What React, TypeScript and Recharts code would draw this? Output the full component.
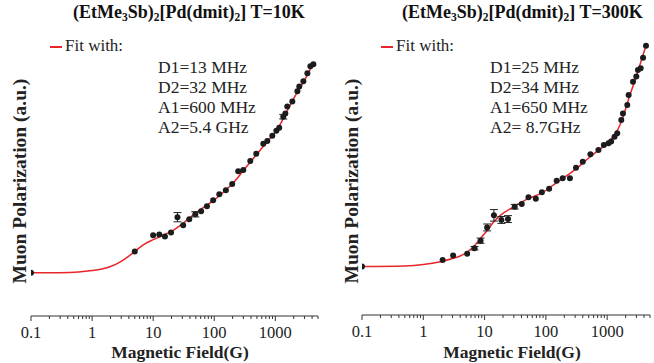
import React from 'react';
import { ComposedChart, Line, Scatter, XAxis, YAxis, ErrorBar } from 'recharts';

// measured points, field in G, polarization in a.u. (0-100 of the axis height)
const field10K = [0.1, 5, 10, 12.6, 15.6, 19.6, 25, 31, 39, 49, 61, 76, 96, 121, 155, 197, 247, 299, 389, 488, 636, 739, 893, 1040, 1160, 1350, 1460, 1570, 1900, 2300, 2470, 2880, 3350, 3750, 4200];
const pol10K = [15.0, 22.4, 28.0, 28.3, 27.6, 29.0, 34.3, 31.5, 33.6, 35.3, 36.4, 38.1, 40.2, 42.3, 43.7, 45.8, 50.3, 50.7, 53.8, 56.3, 59.8, 60.8, 62.6, 64.3, 65.4, 69.2, 70.3, 72.7, 74.5, 78.0, 79.7, 81.5, 84.3, 86.7, 87.4];
const err10K = [0, 0, 0, 0, 0, 0, 1.6, 0, 0, 0.9, 0, 0, 0, 0, 0, 0, 0, 0, 0, 0, 0, 0, 0, 0, 0, 0.8, 0, 0, 0, 0, 0, 0, 0, 0, 0];

const fitField10K = [0.1, 0.3, 0.6, 1, 1.5, 2, 3, 4, 5, 7, 10, 15, 20, 30, 50, 70, 100, 150, 200, 300, 500, 700, 1000, 1200, 1500, 2000, 3000, 4200];
const fitPol10K = [15.0, 15.05, 15.3, 15.8, 16.4, 17.2, 19.0, 20.8, 22.4, 24.8, 26.5, 28.2, 29.4, 32.0, 35.8, 38.0, 40.3, 43.5, 46.0, 50.5, 56.2, 60.0, 63.8, 66.5, 70.5, 75.5, 81.8, 87.8];

const field300K = [0.1, 2.07, 3.07, 5.2, 6.85, 8.6, 11.0, 14.2, 18.8, 24.1, 31, 40.4, 52, 68.5, 86, 113, 150, 188, 247, 310, 400, 533, 720, 883, 1050, 1160, 1320, 1460, 1700, 1810, 2130, 2240, 2640, 2990, 3180, 3520, 3850, 4300];
const pol300K = [16.8, 19.1, 20.7, 21.3, 23.2, 25.8, 30.4, 34.6, 33.0, 33.3, 37.6, 38.5, 40.9, 40.4, 42.6, 43.8, 46.6, 47.5, 47.5, 51.1, 53.2, 55.8, 57.3, 59.0, 59.6, 60.2, 61.9, 63.1, 67.7, 70.0, 72.9, 76.4, 81.0, 82.8, 85.1, 85.7, 89.3, 93.5];
const err300K = [0, 0, 0, 0, 0.6, 0.9, 1.2, 2.0, 1.2, 1.2, 0.8, 0, 0, 0, 0, 0, 0, 0, 0, 0, 0, 0, 0, 0, 0, 0, 0, 0, 0, 0, 0, 0, 0, 0, 0, 0, 0, 0];

const fitField300K = [0.1, 0.5, 1, 1.9, 3, 4, 5, 6.6, 8.5, 11.2, 14, 18.3, 30, 50, 83, 150, 300, 500, 700, 1000, 1200, 1500, 1800, 2200, 3000, 3500, 4300];
const fitPol300K = [16.8, 17.0, 17.5, 18.5, 19.6, 20.5, 21.6, 23.7, 26.5, 29.5, 32.3, 34.7, 37.6, 40.3, 42.2, 46.0, 50.5, 54.5, 57.0, 59.5, 61.5, 64.5, 68.5, 74.5, 83.0, 87.5, 93.5];

const params10K = ['D1=13 MHz', 'D2=32 MHz', 'A1=600 MHz', 'A2=5.4 GHz'];
const params300K = ['D1=25 MHz', 'D2=34 MHz', 'A1=650 MHz', 'A2= 8.7GHz'];

const majorTicks = [0.1, 1, 10, 100, 1000];
const allTicks = [
  0.1, 0.2, 0.3, 0.4, 0.5, 0.6, 0.7, 0.8, 0.9,
  1, 2, 3, 4, 5, 6, 7, 8, 9,
  10, 20, 30, 40, 50, 60, 70, 80, 90,
  100, 200, 300, 400, 500, 600, 700, 800, 900,
  1000, 2000, 3000, 4000, 5000,
];

const serif = '"Liberation Serif", "Times New Roman", serif';
const RED = '#e8252b';

const LogTick = (props: any) => {
  const { x, y, payload } = props;
  const major = majorTicks.includes(payload.value);
  return (
    <g>
      <line x1={x} x2={x} y1={y} y2={y + (major ? 5 : 3)} stroke="#333" strokeWidth={1} />
      {major && (
        <text x={x} y={y + 22} textAnchor="middle" fontFamily={serif} fontSize={16.5} fill="#222">
          {payload.value}
        </text>
      )}
    </g>
  );
};

const Dot = (props: any) => <circle cx={props.cx} cy={props.cy} r={3} fill="#1c1c1c" />;

const zip = (xs: number[], ys: number[], es?: number[]) =>
  xs.map((x, i) => ({ x, y: ys[i], e: es ? es[i] : 0 }));

const subStyle: React.CSSProperties = { fontSize: 11.5, verticalAlign: -3 };

interface PanelProps {
  left: number;
  margin: { top: number; right: number; bottom: number; left: number };
  points: { x: number; y: number; e: number }[];
  fit: { x: number; y: number; e: number }[];
  temp: string;
  params: string[];
  titleX: number;
  paramX: number;
  labelX: number;
  xLabelX: number;
}

const Panel: React.FC<PanelProps> = ({ left, margin, points, fit, temp, params, titleX, paramX, labelX, xLabelX }) => (
  <div style={{ position: 'absolute', left, top: 0, width: 327, height: 363 }}>
    <ComposedChart width={327} height={363} margin={margin}>
      <XAxis
        type="number"
        dataKey="x"
        scale="log"
        domain={[0.1, 5000]}
        allowDataOverflow
        ticks={allTicks}
        interval={0}
        tick={<LogTick />}
        tickLine={false}
        tickSize={0}
        tickMargin={0}
        height={47}
        stroke="#333"
      />
      <YAxis type="number" domain={[0, 100]} width={0} tick={false} tickLine={false} stroke="#555" allowDataOverflow />
      <Line data={fit} dataKey="y" type="monotone" stroke={RED} strokeWidth={1.5} dot={false} isAnimationActive={false} />
      <Scatter data={points} dataKey="y" shape={<Dot />} isAnimationActive={false}>
        <ErrorBar dataKey="e" direction="y" width={4} stroke="#222" strokeWidth={1} />
      </Scatter>
    </ComposedChart>
    <div style={{ position: 'absolute', left: titleX, top: 2, fontFamily: serif, fontWeight: 'bold', fontSize: 18, whiteSpace: 'nowrap', color: '#111' }}>
      (EtMe<sub style={subStyle}>3</sub>Sb)<sub style={subStyle}>2</sub>[Pd(dmit)<sub style={subStyle}>2</sub>] T={temp}
    </div>
    <div style={{ position: 'absolute', left: 50 + (left ? 4 : 0), top: 46, width: 12, height: 1.5, background: RED }} />
    <div style={{ position: 'absolute', left: 65 + (left ? 4 : 0), top: 36, fontFamily: serif, fontSize: 17, color: '#222', whiteSpace: 'nowrap' }}>
      Fit with:
    </div>
    <div style={{ position: 'absolute', left: paramX, top: 57, fontFamily: serif, fontSize: 17.5, lineHeight: '20px', color: '#222', whiteSpace: 'nowrap' }}>
      {params.map((p) => (
        <div key={p}>{p}</div>
      ))}
    </div>
    <div
      style={{
        position: 'absolute',
        left: labelX,
        top: 181,
        transform: 'translate(-50%, -50%) rotate(-90deg)',
        fontFamily: serif,
        fontWeight: 'bold',
        fontSize: 19.5,
        whiteSpace: 'nowrap',
        color: '#222',
      }}
    >
      Muon Polarization (a.u.)
    </div>
    <div
      style={{
        position: 'absolute',
        left: xLabelX,
        top: 352,
        transform: 'translate(-50%, -50%)',
        fontFamily: serif,
        fontWeight: 'bold',
        fontSize: 17.5,
        whiteSpace: 'nowrap',
        color: '#222',
      }}
    >
      Magnetic Field(G)
    </div>
  </div>
);

export default function App() {
  return (
    <div style={{ position: 'absolute', left: 0, top: 0, width: 654, height: 363, background: '#fff' }}>
      <Panel
        left={0}
        margin={{ top: 28, right: 9, bottom: 0, left: 31 }}
        points={zip(field10K, pol10K, err10K)}
        fit={zip(fitField10K, fitPol10K)}
        temp="10K"
        params={params10K}
        titleX={73}
        paramX={158}
        labelX={20}
        xLabelX={180}
      />
      <Panel
        left={327}
        margin={{ top: 27, right: 4, bottom: 1, left: 35 }}
        points={zip(field300K, pol300K, err300K)}
        fit={zip(fitField300K, fitPol300K)}
        temp="300K"
        params={params300K}
        titleX={75}
        paramX={163}
        labelX={25}
        xLabelX={185}
      />
    </div>
  );
}
